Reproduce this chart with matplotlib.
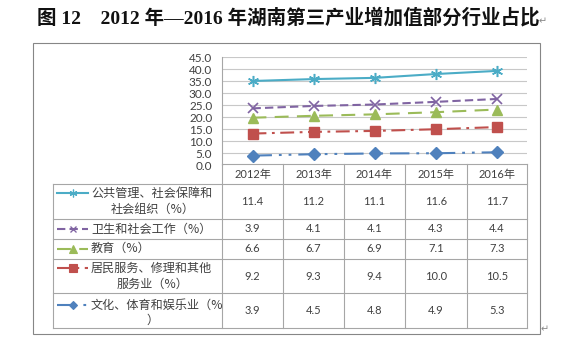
import numpy as np
import matplotlib.pyplot as plt

plt.rcParams['lines.scale_dashes'] = False

# data
years = ["2012年", "2013年", "2014年", "2015年", "2016年"]
gonggong = [11.4, 11.2, 11.1, 11.6, 11.7]
weisheng = [3.9, 4.1, 4.1, 4.3, 4.4]
jiaoyu = [6.6, 6.7, 6.9, 7.1, 7.3]
jumin = [9.2, 9.3, 9.4, 10.0, 10.5]
wenhua = [3.9, 4.5, 4.8, 4.9, 5.3]

labels = [
    ("公共管理、社会保障和", "社会组织（%）"),
    ("卫生和社会工作（%）", None),
    ("教育（%）", None),
    ("居民服务、修理和其他", "服务业（%）"),
    ("文化、体育和娱乐业（%", "）"),
]
table_rows = [gonggong, weisheng, jiaoyu, jumin, wenhua]

# styles, in table order
styles = [
    dict(color="#4BACC6", marker=(6, 2, 0), ms=8, ls="-", mew=1.1, mfc="#4BACC6"),
    dict(color="#8064A2", marker="x", ms=7, ls=(0, (6, 3)), mew=1.2, mfc="#8064A2"),
    dict(color="#9BBB59", marker="^", ms=7.5, ls=(0, (10, 6)), mew=1, mfc="#9BBB59"),
    dict(color="#C0504D", marker="s", ms=7.5, ls=(0, (10, 4, 2, 4)), mew=1, mfc="#C0504D"),
    dict(color="#4F81BD", marker="D", ms=6, ls=(0, (14, 5, 2, 5, 2, 5)), mew=1, mfc="#4F81BD"),
]

W, H = 570, 358
fig = plt.figure(figsize=(W / 100, H / 100), dpi=100)

base = fig.add_axes([0, 0, 1, 1])
base.set_xlim(0, W)
base.set_ylim(H, 0)
base.axis("off")

cjk = ["Noto Sans CJK SC"]
num = ["Lato", "Noto Sans CJK SC"]
tc = "#404040"
grid_c = "#A6A6A6"

# title
base.text(288, 18, "图 12    2012 年—2016 年湖南第三产业增加值部分行业占比",
          ha="center", va="center", fontsize=14, fontweight="bold",
          family=["Liberation Serif", "Noto Sans CJK SC"], color="#111111")
base.text(539, 21, "↵", ha="left", va="center", fontsize=7, color="#888888",
          family=["DejaVu Sans"])
base.text(541, 329, "↵", ha="left", va="center", fontsize=7, color="#888888",
          family=["DejaVu Sans"])

# outer border
base.add_patch(plt.Rectangle((33, 43), 507, 291, fill=False, ec="#868686", lw=0.8))

# chart area
x0, x1, y0, y1 = 222, 527, 57, 165
ax = fig.add_axes([x0 / W, 1 - y1 / H, (x1 - x0) / W, (y1 - y0) / H])
ax.set_xlim(-0.5, 4.5)
ax.set_ylim(0, 45)
ax.set_yticks(np.arange(0, 46, 5))
ax.set_yticklabels([f"{v:.1f}" for v in np.arange(0, 46, 5)], family=num,
                   fontsize=8.5, color=tc)
ax.set_xticks([])
ax.tick_params(axis="y", length=0, pad=7)
ax.grid(axis="y", color="#C8C8C8", lw=0.8)
ax.set_axisbelow(True)
for s in ["top", "right", "bottom"]:
    ax.spines[s].set_visible(False)
ax.spines["left"].set_color(grid_c)
ax.spines["left"].set_linewidth(0.8)
ax.patch.set_alpha(0)

# stacked lines: bottom is wenhua
order = [4, 3, 2, 1, 0]
stack = np.cumsum([table_rows[i] for i in order], axis=0)
xs = np.arange(len(years))
for k, i in enumerate(order):
    st = styles[i]
    ax.plot(xs, stack[k], color=st["color"], ls=st["ls"], lw=1.5,
            marker=st["marker"], ms=st["ms"], mew=st["mew"],
            mfc=st["mfc"], mec=st["color"], zorder=3, clip_on=False)

# data table
cols = [222, 283, 344, 405, 467, 527]
rows = [184, 219, 239, 259, 293, 328]
lw = 0.8
base.plot([222, 527], [164, 164], color=grid_c, lw=lw)
for yv in rows:
    base.plot([53, 527], [yv, yv], color=grid_c, lw=lw)
base.plot([53, 53], [184, 328], color=grid_c, lw=lw)
for xv in cols:
    base.plot([xv, xv], [164, 328], color=grid_c, lw=lw)

for j, yr in enumerate(years):
    cx = (cols[j] + cols[j + 1]) / 2
    base.text(cx, 174.5, yr, ha="center", va="center", fontsize=8,
              family=num, color=tc)

line_y = [(193, 209), (229, None), (248.5, None), (268, 284), (305, 320)]
for r, vals in enumerate(table_rows):
    cy = (rows[r] + rows[r + 1]) / 2
    for j, v in enumerate(vals):
        cx = (cols[j] + cols[j + 1]) / 2
        base.text(cx, cy, f"{v:.1f}", ha="center", va="center", fontsize=8,
                  family=num, color=tc)
    st = styles[r]
    ly1, ly2 = line_y[r]
    base.plot([57, 88], [ly1, ly1], color=st["color"], ls=st["ls"], lw=1.5)
    base.plot([72.5], [ly1], marker=st["marker"], ms=st["ms"] * 0.7,
              mew=st["mew"] * 0.8, color=st["color"], mfc=st["mfc"], ls="none")
    l1, l2 = labels[r]
    base.text(91, ly1, l1, ha="left", va="center", fontsize=8.7,
              family=cjk, color=tc)
    if l2:
        base.text(153, ly2, l2, ha="center", va="center", fontsize=8.7,
                  family=cjk, color=tc)

fig.savefig("out.png", dpi=100)
